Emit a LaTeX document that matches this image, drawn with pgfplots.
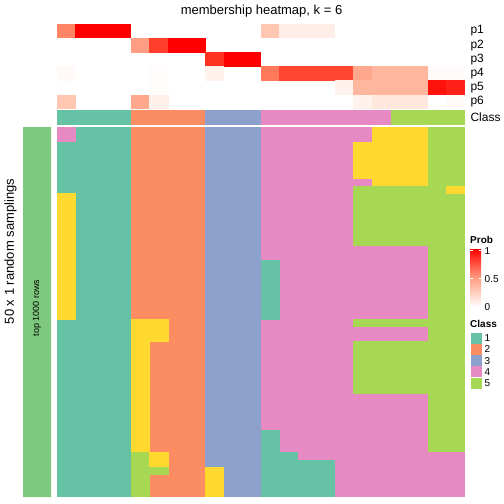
\documentclass[border=0pt]{standalone}
\usepackage{pgfplots}
\pgfplotsset{compat=1.18}
\usepackage{fontspec}
\setmainfont{Liberation Sans}
\definecolor{cA}{HTML}{66C2A5}
\definecolor{cB}{HTML}{FC8D62}
\definecolor{cC}{HTML}{8DA0CB}
\definecolor{cD}{HTML}{E78AC3}
\definecolor{cE}{HTML}{A6D854}
\definecolor{cF}{HTML}{FFD92F}
\definecolor{accent}{HTML}{7FC97F}
\definecolor{midred}{RGB}{255,158,130}
\pgfdeclareplotmark{cell}{%
  \pgfmathsetlengthmacro\hw{(\cellw+0.6)*0.5bp}%
  \pgfmathsetlengthmacro\hh{(\cellh+0.6)*0.5bp}%
  \pgfpathrectanglecorners{\pgfqpoint{-\hw}{-\hh}}{\pgfqpoint{\hw}{\hh}}%
  \pgfusepathqfill}
\begin{document}
\begin{tikzpicture}
\begin{axis}[width=504bp, height=504bp, scale only axis,
  xmin=0, xmax=504, ymin=0, ymax=504, y dir=reverse,
  hide axis, clip=false,
  point meta min=0, point meta max=1,
  colormap={prob}{rgb255(0)=(255,255,255) rgb255(0.25)=(255,208,190) rgb255(0.5)=(255,158,130) rgb255(0.75)=(255,103,71) rgb255(1)=(255,0,0)}]
\path (axis cs:0,0) rectangle (axis cs:504,504);
% membership probabilities
\addplot[scatter, only marks, mark=cell, point meta=explicit,
  visualization depends on={18.545*(\thisrow{c1}-\thisrow{c0}+1) \as \cellw},
  visualization depends on={value 14.17 \as \cellh}]
  table[x expr={57+18.545*(\thisrow{c0}+\thisrow{c1}+1)/2}, y expr={24+14.17*(\thisrow{r}+0.5)}, meta=v] {
c0 c1 r v
0 0 0 0.62
1 3 0 1
11 11 0 0.3
12 14 0 0.09
4 4 1 0.5
5 5 1 0.85
6 7 1 1
8 8 2 0.88
9 10 2 1
0 0 3 0.03
5 5 3 0.015
8 8 3 0.07
11 11 3 0.67
12 15 3 0.83
16 16 3 0.45
17 19 3 0.38
20 21 3 0.02
5 5 4 0.015
15 15 4 0.07
16 19 4 0.38
20 20 4 0.96
21 21 4 0.92
0 0 5 0.3
4 4 5 0.45
5 5 5 0.08
16 16 5 0.07
17 19 5 0.13
21 21 5 0.02
};
% class row
\addplot[scatter, only marks, mark=cell, point meta=explicit symbolic,
  scatter/classes={1={mark=cell,cA},2={mark=cell,cB},3={mark=cell,cC},4={mark=cell,cD},5={mark=cell,cE},6={mark=cell,cF}},
  visualization depends on={18.545*(\thisrow{c1}-\thisrow{c0}+1) \as \cellw},
  visualization depends on={value 14.3 \as \cellh}]
  table[x expr={57+18.545*(\thisrow{c0}+\thisrow{c1}+1)/2}, y expr={117.2}, meta=k] {
c0 c1 k
0 3 1
4 7 2
8 10 3
11 17 4
18 21 5
};
% main heatmap
\addplot[scatter, only marks, mark=cell, point meta=explicit symbolic,
  scatter/classes={1={mark=cell,cA},2={mark=cell,cB},3={mark=cell,cC},4={mark=cell,cD},5={mark=cell,cE},6={mark=cell,cF}},
  visualization depends on={18.545*(\thisrow{c1}-\thisrow{c0}+1) \as \cellw},
  visualization depends on={7.4*(\thisrow{r1}-\thisrow{r0}+1) \as \cellh}]
  table[x expr={57+18.545*(\thisrow{c0}+\thisrow{c1}+1)/2}, y expr={127+7.4*(\thisrow{r0}+\thisrow{r1}+1)/2}, meta=k] {
c0 c1 r0 r1 k
0 3 0 49 1
4 7 0 49 2
8 10 0 49 3
11 19 0 49 4
20 21 0 49 5
0 0 0 1 4
0 0 9 25 6
4 4 26 43 6
4 4 44 49 5
5 5 26 28 6
5 5 44 45 6
5 5 46 46 5
8 8 46 49 6
11 11 18 25 1
11 11 41 49 1
12 12 44 49 1
13 14 45 49 1
17 19 0 7 6
16 16 2 6 6
16 21 8 15 5
21 21 8 8 6
16 21 26 26 5
16 21 29 35 5
20 21 44 49 4
};
% left annotation bar
\addplot[fill=accent, draw=none] coordinates {(23,127) (51,127) (51,497) (23,497) (23,127)};
% texts
\node[font=\fontsize{13bp}{15bp}\selectfont] at (axis cs:261.5,11) {membership heatmap, k = 6};
\node[font=\fontsize{12bp}{14bp}\selectfont, anchor=west] at (axis cs:467,31.1) {p1};
\node[font=\fontsize{12bp}{14bp}\selectfont, anchor=west] at (axis cs:467,45.3) {p2};
\node[font=\fontsize{12bp}{14bp}\selectfont, anchor=west] at (axis cs:467,59.4) {p3};
\node[font=\fontsize{12bp}{14bp}\selectfont, anchor=west] at (axis cs:467,73.6) {p4};
\node[font=\fontsize{12bp}{14bp}\selectfont, anchor=west] at (axis cs:467,87.8) {p5};
\node[font=\fontsize{12bp}{14bp}\selectfont, anchor=west] at (axis cs:467,101.9) {p6};
\node[font=\fontsize{12bp}{14bp}\selectfont, anchor=west] at (axis cs:467,117.2) {Class};
\node[font=\fontsize{13bp}{15bp}\selectfont, rotate=90] at (axis cs:10.5,251.5) {50 x 1 random samplings};
\node[font=\fontsize{9bp}{11bp}\selectfont, rotate=90] at (axis cs:37,308) {top 1000 rows};
% legend Prob
\node[font=\fontsize{10bp}{12bp}\selectfont\bfseries, anchor=west, inner sep=0pt] at (axis cs:470,240) {Prob};
\shade[top color=red, bottom color=white, middle color=midred] (axis cs:470,249) rectangle (axis cs:481,307);
\draw[white, line width=0.6bp] (axis cs:470,250.5) -- (axis cs:472.5,250.5) (axis cs:478.5,250.5) -- (axis cs:481,250.5);
\draw[white, line width=0.6bp] (axis cs:470,278.5) -- (axis cs:472.5,278.5) (axis cs:478.5,278.5) -- (axis cs:481,278.5);
\node[font=\fontsize{10bp}{12bp}\selectfont, anchor=west, inner sep=0pt] at (axis cs:484.5,251) {1};
\node[font=\fontsize{10bp}{12bp}\selectfont, anchor=west, inner sep=0pt] at (axis cs:484.5,279) {0.5};
\node[font=\fontsize{10bp}{12bp}\selectfont, anchor=west, inner sep=0pt] at (axis cs:484.5,307) {0};
% legend Class
\node[font=\fontsize{10bp}{12bp}\selectfont\bfseries, anchor=west, inner sep=0pt] at (axis cs:470,324) {Class};
\fill[cA] (axis cs:470.5,332.5) rectangle (axis cs:481.5,343.5);
\fill[cB] (axis cs:470.5,343.8) rectangle (axis cs:481.5,354.8);
\fill[cC] (axis cs:470.5,355.1) rectangle (axis cs:481.5,366.1);
\fill[cD] (axis cs:470.5,366.4) rectangle (axis cs:481.5,377.4);
\fill[cE] (axis cs:470.5,377.7) rectangle (axis cs:481.5,388.7);
\node[font=\fontsize{10bp}{12bp}\selectfont, anchor=west, inner sep=0pt] at (axis cs:484.5,338) {1};
\node[font=\fontsize{10bp}{12bp}\selectfont, anchor=west, inner sep=0pt] at (axis cs:484.5,349.3) {2};
\node[font=\fontsize{10bp}{12bp}\selectfont, anchor=west, inner sep=0pt] at (axis cs:484.5,360.6) {3};
\node[font=\fontsize{10bp}{12bp}\selectfont, anchor=west, inner sep=0pt] at (axis cs:484.5,371.9) {4};
\node[font=\fontsize{10bp}{12bp}\selectfont, anchor=west, inner sep=0pt] at (axis cs:484.5,383.2) {5};
\end{axis}
\end{tikzpicture}
\end{document}
